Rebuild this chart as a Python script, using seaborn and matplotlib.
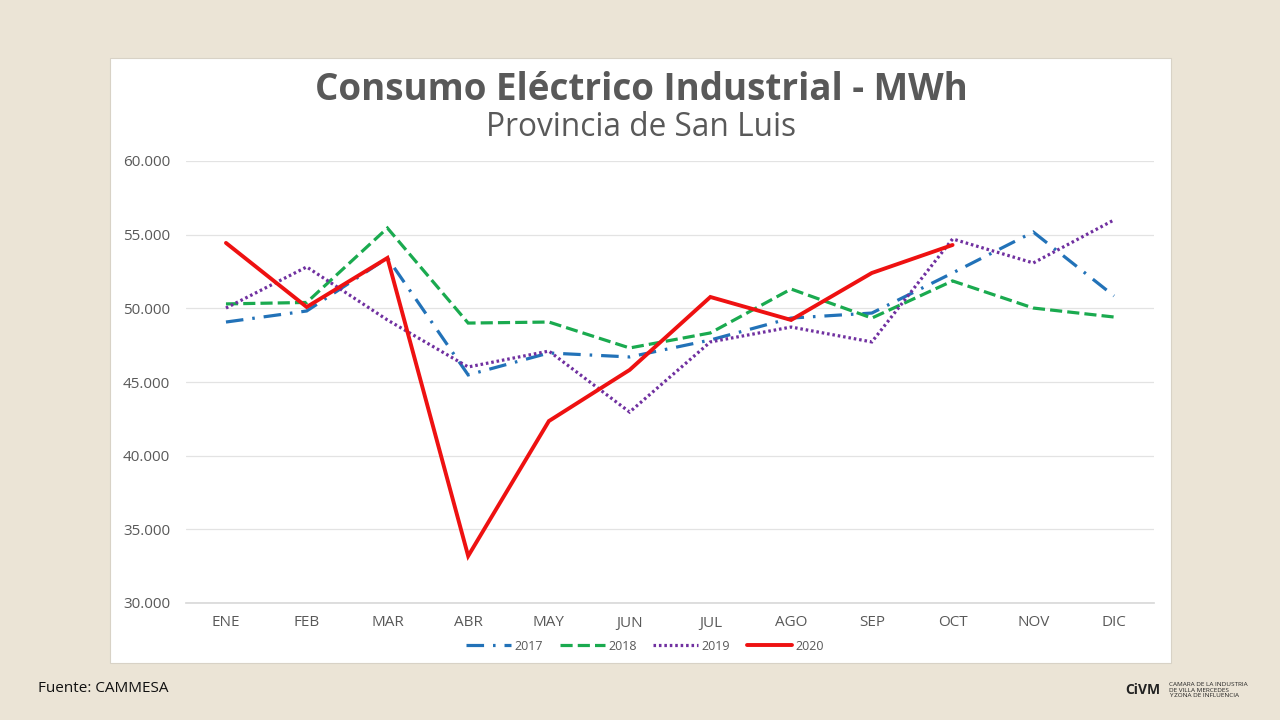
import matplotlib
matplotlib.use("Agg")
import matplotlib.pyplot as plt
import matplotlib.patches as mpatches
import seaborn as sns
import numpy as np
import pandas as pd

# Monthly industrial electricity consumption (MWh)
meses = ["ENE", "FEB", "MAR", "ABR", "MAY", "JUN", "JUL", "AGO", "SEP", "OCT", "NOV", "DIC"]
consumo_2017 = [49070, 49820, 53420, 45480, 46970, 46700, 47850, 49340, 49680, 52400, 55180, 50840]
consumo_2018 = [50300, 50400, 55450, 49000, 49070, 47310, 48330, 51310, 49340, 51860, 50020, 49410]
consumo_2019 = [50020, 52810, 49210, 46020, 47100, 42960, 47720, 48730, 47720, 54710, 53080, 56000]
consumo_2020 = [54440, 50090, 53420, 33190, 42350, 45820, 50770, 49210, 52400, 54300, np.nan, np.nan]

series = {"2017": consumo_2017, "2018": consumo_2018, "2019": consumo_2019, "2020": consumo_2020}
colores = {"2017": "#2272b8", "2018": "#1aaa4f", "2019": "#7030a0", "2020": "#ee1111"}
estilos = {"2017": (0, (5.5, 2.8, 0.8, 2.8)), "2018": (0, (3.8, 1.6)), "2019": (0, (0.8, 0.9)), "2020": "-"}
anchos = {"2017": 2.3, "2018": 2.3, "2019": 2.3, "2020": 2.8}

rows = []
for anio, vals in series.items():
    for i, v in enumerate(vals):
        rows.append({"mes": i, "anio": anio, "mwh": v})
df = pd.DataFrame(rows)

sns.set_theme(style="white")
plt.rcParams["font.family"] = ["Open Sans", "DejaVu Sans"]

W, H = 1280, 720
fig = plt.figure(figsize=(12.8, 7.2), dpi=100)
fig.patch.set_facecolor("#ebe4d6")

# white slide panel
panel = mpatches.Rectangle((110 / W, 1 - 663 / H), (1171 - 110) / W, (663 - 58) / H,
                           transform=fig.transFigure, facecolor="white", edgecolor="#d8d2c6",
                           linewidth=0.8, zorder=-5)
fig.patches.append(panel)

ax = fig.add_axes([185.6 / W, 1 - 603 / H, (1154.4 - 185.6) / W, (603 - 161) / H])
ax.set_zorder(2)
ax.set_facecolor("white")

for anio in series:
    sub = df[df["anio"] == anio].dropna()
    sns.lineplot(data=sub, x="mes", y="mwh", ax=ax, color=colores[anio],
                 linestyle=estilos[anio], linewidth=anchos[anio], label=anio,
                 solid_joinstyle="miter", dash_joinstyle="miter")

ax.set_xlim(-0.5, 11.5)
ax.set_ylim(30000, 60000)
ax.set_yticks(np.arange(30000, 60001, 5000))
ax.set_yticklabels([f"{int(v):,}".replace(",", ".") for v in np.arange(30000, 60001, 5000)])
ax.set_xticks(range(12))
ax.set_xticklabels(meses)
ax.tick_params(axis="both", length=0, labelsize=11, colors="#595959")
ax.tick_params(axis="y", pad=11)
ax.tick_params(axis="x", pad=9)
ax.grid(axis="y", color="#e3e3e3", linewidth=0.9)
ax.set_axisbelow(True)
for s in ax.spines.values():
    s.set_visible(False)
ax.spines["bottom"].set_visible(True)
ax.spines["bottom"].set_color("#d9d9d9")
ax.set_xlabel("")
ax.set_ylabel("")

leg = ax.legend(loc="center", bbox_to_anchor=(645 / W, 1 - 646 / H), bbox_transform=fig.transFigure,
                ncol=4, frameon=False, fontsize=9, handlelength=3.6, columnspacing=1.3,
                handletextpad=0.3)
for t in leg.get_texts():
    t.set_color("#595959")

fig.text(641 / W, 1 - 90 / H, "Consumo Eléctrico Industrial - MWh", ha="center", va="center",
         fontsize=26.5, fontweight="bold", color="#595959")
fig.text(641 / W, 1 - 128 / H, "Provincia de San Luis", ha="center", va="center",
         fontsize=22.8, color="#595959")

fig.text(38 / W, 1 - 689 / H, "Fuente: CAMMESA", ha="left", va="center", fontsize=11, color="#111111")

# small logo block bottom right
fig.text(1143 / W, 1 - 690 / H, "CiVM", ha="center", va="center", fontsize=10,
         fontweight="bold", color="#222222")
fig.text(1169 / W, 1 - 690 / H, "CAMARA DE LA INDUSTRIA\nDE VILLA MERCEDES\nY ZONA DE INFLUENCIA",
         ha="left", va="center", fontsize=4.6, color="#222222", linespacing=1.1)

fig.savefig("out.png", dpi=100, facecolor=fig.get_facecolor())
